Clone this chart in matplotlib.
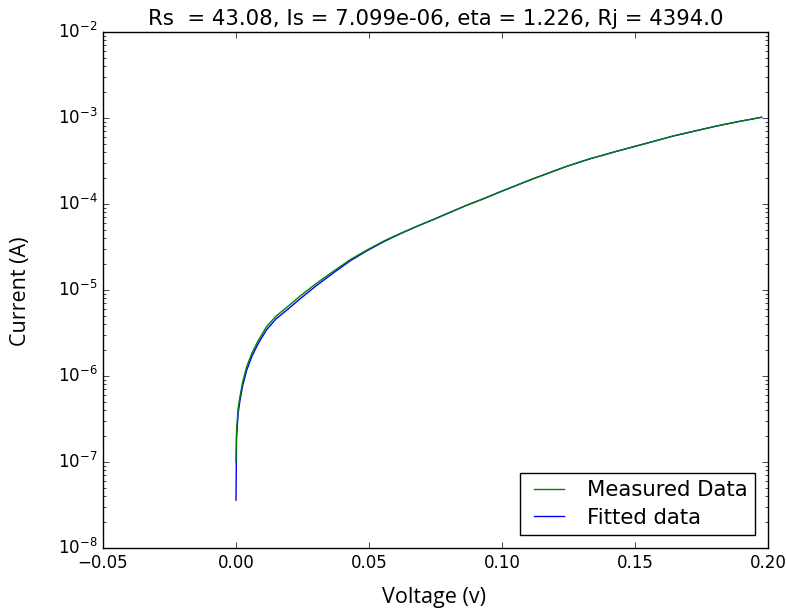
import matplotlib
matplotlib.use("Agg")
import matplotlib.pyplot as plt

plt.style.use("classic")
plt.rcParams["mathtext.fontset"] = "dejavusans"
plt.rcParams["mathtext.default"] = "regular"
plt.rcParams["font.family"] = ["DejaVu Sans"]

title = "Rs  = 43.08, Is = 7.099e-06, eta = 1.226, Rj = 4394.0"

voltage = [0.0, 0.0002, 0.0008, 0.0015, 0.0025, 0.004, 0.006, 0.0084, 0.0115, 0.015,
           0.0209, 0.0241, 0.0300, 0.0366, 0.0429, 0.0491, 0.0555, 0.0617, 0.0680, 0.0742,
           0.0805, 0.0867, 0.0930, 0.0992, 0.1055, 0.1118, 0.1180, 0.1243, 0.1330, 0.1431,
           0.1540, 0.1644, 0.1720, 0.1807, 0.1890, 0.1976]
current_measured = [1.0e-7, 2.3e-7, 4.2e-7, 5.8e-7, 8.5e-7, 1.28e-6, 1.85e-6, 2.6e-6, 3.75e-6, 4.95e-6,
                    7.0e-6, 8.5e-6, 1.18e-5, 1.65e-5, 2.25e-5, 2.9e-5, 3.7e-5, 4.53e-5, 5.5e-5, 6.6e-5,
                    8.0e-5, 9.66e-5, 1.15e-4, 1.38e-4, 1.65e-4, 1.97e-4, 2.32e-4, 2.74e-4, 3.35e-4, 4.1e-4,
                    5.05e-4, 6.18e-4, 7.0e-4, 8.07e-4, 9.1e-4, 1.02e-3]
current_fitted = [3.6e-8, 1.9e-7, 3.7e-7, 5.2e-7, 7.7e-7, 1.16e-6, 1.7e-6, 2.4e-6, 3.45e-6, 4.6e-6,
                  6.5e-6, 7.9e-6, 1.11e-5, 1.58e-5, 2.18e-5, 2.84e-5, 3.64e-5, 4.5e-5, 5.5e-5, 6.6e-5,
                  8.0e-5, 9.66e-5, 1.15e-4, 1.38e-4, 1.65e-4, 1.97e-4, 2.32e-4, 2.74e-4, 3.35e-4, 4.1e-4,
                  5.05e-4, 6.18e-4, 7.0e-4, 8.07e-4, 9.1e-4, 1.02e-3]

fig = plt.figure(figsize=(7.86, 6.13), dpi=100, facecolor="white")
ax = fig.add_axes([103/786, 1-548/613, (768-103)/786, (548-32)/613])

l1, = ax.plot(voltage, current_measured, color="g", lw=1.0, label="Measured Data", zorder=3)
l2, = ax.plot(voltage, current_fitted, color="b", lw=1.0, label="Fitted data", zorder=2)
ax.set_yscale("log")
ax.set_xlim(-0.05, 0.20)
ax.set_ylim(1e-8, 1e-2)
ax.set_xticks([-0.05, 0.0, 0.05, 0.10, 0.15, 0.20])
ax.set_xticklabels(["\u22120.05", "0.00", "0.05", "0.10", "0.15", "0.20"])
ax.tick_params(labelsize=12)
ax.set_title(title, fontsize=15.3, pad=5)

fig.text(434/786, 1-598/613, "Voltage (v)", fontsize=15.5, family="Open Sans",
         ha="center", va="center")
fig.text(21/786, 1-291/613, "Current (A)", fontsize=15.5, family="Open Sans",
         ha="center", va="center", rotation=90)

leg = ax.legend(handles=[l1, l2], loc="lower right", fontsize=15.3,
                borderaxespad=0.6, handlelength=2.0, numpoints=2,
                borderpad=0.35, labelspacing=0.35)
leg.get_frame().set_linewidth(1.0)

fig.savefig("out.png", dpi=100, facecolor="white")
